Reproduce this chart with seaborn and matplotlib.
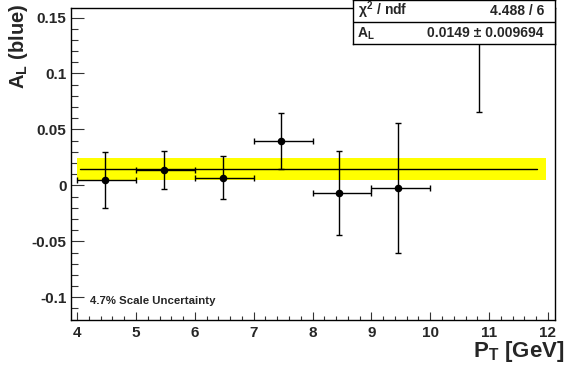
import matplotlib
matplotlib.use("Agg")
import matplotlib.pyplot as plt
import numpy as np
import pandas as pd
import seaborn as sns

## data
pt_mean = [4.47, 5.47, 6.47, 7.46, 8.45, 9.45, 10.82]
pt_lo = [4.0, 5.0, 6.0, 7.0, 8.0, 9.0, 10.0]
pt_hi = [5.0, 6.0, 7.0, 8.0, 9.0, 10.0, 12.0]
al = [0.005, 0.014, 0.007, 0.040, -0.0065, -0.002, 0.20]
al_err = [0.025, 0.017, 0.019, 0.025, 0.0375, 0.058, 0.134]

fit_value = 0.0149
fit_error = 0.009694
fit_range = [4.05, 11.82]
band_range = [4.0, 11.96]
chi2_text = "4.488 / 6"
par_text = "0.0149 \u00b1 0.009694"

yticks = [-0.1, -0.05, 0, 0.05, 0.1, 0.15]
ytick_labels = ["-0.1", "-0.05", "0", "0.05", "0.1", "0.15"]
xticks = [4, 5, 6, 7, 8, 9, 10, 11, 12]

df = pd.DataFrame({"pt": pt_mean, "al": al, "err": al_err,
                   "lo": pt_lo, "hi": pt_hi})
df["xerr_lo"] = df["pt"] - df["lo"]
df["xerr_hi"] = df["hi"] - df["pt"]

sns.set_style("ticks")
plt.rcParams["font.family"] = ["Liberation Sans", "DejaVu Sans"]
plt.rcParams["font.weight"] = "bold"
plt.rcParams["mathtext.fontset"] = "custom"
plt.rcParams["mathtext.rm"] = "Liberation Sans:bold"
plt.rcParams["mathtext.it"] = "Liberation Sans:bold"
plt.rcParams["mathtext.bf"] = "Liberation Sans:bold"

fig = plt.figure(figsize=(5.67, 3.66), dpi=100)
ax = fig.add_axes([70.7 / 567, 1 - 320 / 366, (555 - 70.7) / 567, (320 - 8) / 366])

# fit uncertainty band + fit line
ax.fill_between(band_range, fit_value - fit_error, fit_value + fit_error,
                color="#ffff00", linewidth=0, zorder=1)
ax.plot(fit_range, [fit_value, fit_value], color="black", lw=1, zorder=2)

# points with error bars
ax.errorbar(df["pt"], df["al"], yerr=df["err"],
            xerr=[df["xerr_lo"], df["xerr_hi"]],
            fmt="none", ecolor="black", elinewidth=1, capsize=2, capthick=1, zorder=3)
sns.scatterplot(data=df, x="pt", y="al", color="black", s=30,
                edgecolor="black", linewidth=0, ax=ax, zorder=4)

ax.set_xticks(xticks)
ax.set_xticklabels([str(t) for t in xticks])
ax.set_xticks(np.arange(4.0, 12.01, 0.2), minor=True)
ax.set_yticks(yticks)
ax.set_yticklabels(ytick_labels)
ax.set_yticks(np.arange(-0.12, 0.155, 0.01), minor=True)
ax.set_xlim(3.89, 12.12)
ax.set_ylim(-0.1203, 0.1585)

ax.tick_params(axis="x", which="major", direction="in", length=6, width=0.8,
               labelsize=11, pad=4, color="#333333")
ax.tick_params(axis="x", which="minor", direction="in", length=3, width=0.8,
               color="#333333")
ax.tick_params(axis="y", which="major", direction="in", length=9.5, width=0.8,
               labelsize=11, pad=3, color="#333333")
ax.tick_params(axis="y", which="minor", direction="in", length=5, width=0.8,
               color="#333333")
for lab in ax.get_xticklabels() + ax.get_yticklabels():
    lab.set_fontweight("bold")

for s in ax.spines.values():
    s.set_visible(True)
    s.set_linewidth(1)
    s.set_color("black")

ax.set_xlabel("")
ax.set_ylabel("")
fig.text(564 / 567, 1 - 352 / 366, r"P$_\mathregular{T}$ [GeV]", ha="right", va="center",
         fontsize=16, fontweight="bold")
fig.text(19 / 567, 1 - 4 / 366, r"A$_\mathregular{L}$ (blue)", ha="center", va="top",
         rotation=90, fontsize=14.5, fontweight="bold")

ax.text(90 / 567, 1 - 301.5 / 366, "4.7% Scale Uncertainty", transform=fig.transFigure,
        ha="left", va="center", fontsize=8.2, fontweight="bold")

# stat box
box = fig.add_axes([353 / 567, 1 - 44 / 366, (555 - 353) / 567, 44 / 366], zorder=5)
box.set_facecolor("white")
box.set_xticks([])
box.set_yticks([])
box.set_xlim(0, 1)
box.set_ylim(0, 1)
for s in box.spines.values():
    s.set_linewidth(1)
    s.set_color("black")
box.axhline(0.5, color="black", lw=1)
box.text(0.025, 0.76, r"$\chi^2$ / ndf", ha="left", va="center", fontsize=10)
box.text(0.945, 0.76, chi2_text, ha="right", va="center", fontsize=10)
box.text(0.02, 0.24, r"A$_\mathregular{L}$", ha="left", va="center", fontsize=10)
box.text(0.945, 0.24, par_text, ha="right", va="center", fontsize=10)

plt.savefig("out.png", dpi=100)
